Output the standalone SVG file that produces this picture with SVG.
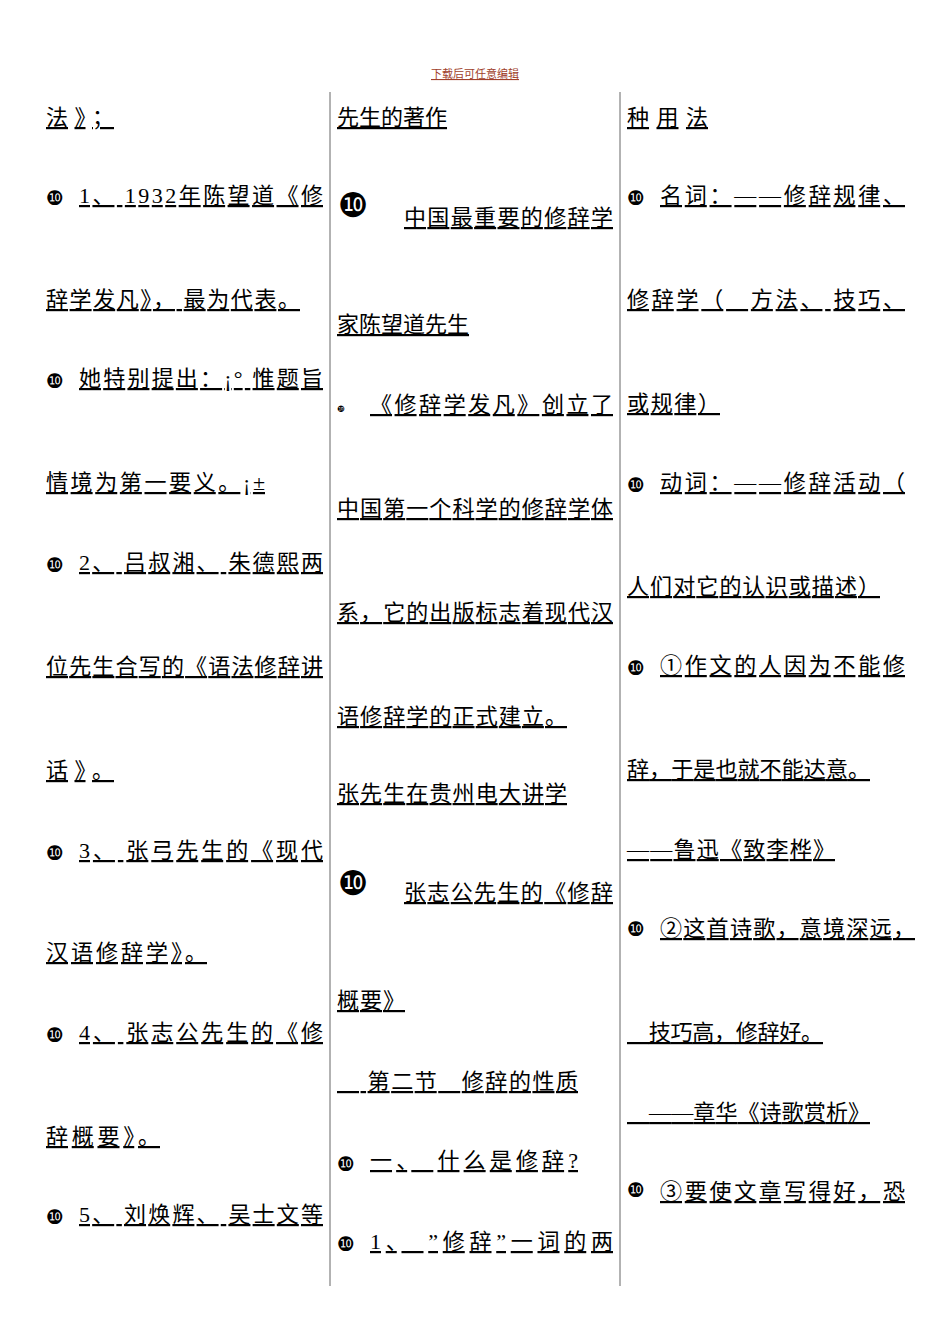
<svg xmlns="http://www.w3.org/2000/svg" width="950" height="1344" viewBox="0 0 950 1344">
<style>
text{font-family:"Liberation Serif","Noto Sans CJK SC",serif;font-size:22px;fill:#000;text-decoration:underline}
.b{text-decoration:none;font-size:20px;font-family:"DejaVu Sans","Noto Sans CJK SC",sans-serif}
.B{text-decoration:none;font-size:34px;font-family:"DejaVu Sans","Noto Sans CJK SC",sans-serif}
.h{font-size:11px;fill:#a0402a}
line{stroke:#666;stroke-width:1}
</style>
<rect width="950" height="1344" fill="#fff"/>
<text class="h" x="475" y="78" text-anchor="middle">下载后可任意编辑</text>
<line x1="330" y1="92" x2="330" y2="1286"/>
<line x1="620" y1="92" x2="620" y2="1286"/>
<g id="col1">
<text x="46" y="125" textLength="68" lengthAdjust="spacing">法》；</text>
<text class="b" x="46" y="205">❿</text><text x="79" y="203" textLength="244" lengthAdjust="spacing">1、 1932年陈望道《修</text>
<text x="46" y="307" textLength="254" lengthAdjust="spacing">辞学发凡》， 最为代表。</text>
<text class="b" x="46" y="388">❿</text><text x="79" y="386" textLength="244" lengthAdjust="spacing">她特别提出：¡° 惟题旨</text>
<text x="46" y="490" textLength="219" lengthAdjust="spacing">情境为第一要义。¡±</text>
<text class="b" x="46" y="572">❿</text><text x="79" y="570" textLength="244" lengthAdjust="spacing">2、 吕叔湘、 朱德熙两</text>
<text x="46" y="674" textLength="277" lengthAdjust="spacing">位先生合写的《语法修辞讲</text>
<text x="46" y="778" textLength="68" lengthAdjust="spacing">话》。</text>
<text class="b" x="46" y="860">❿</text><text x="79" y="858" textLength="244" lengthAdjust="spacing">3、 张弓先生的《现代</text>
<text x="46" y="960" textLength="161" lengthAdjust="spacing">汉语修辞学》。</text>
<text class="b" x="46" y="1042">❿</text><text x="79" y="1040" textLength="244" lengthAdjust="spacing">4、 张志公先生的《修</text>
<text x="46" y="1144" textLength="114" lengthAdjust="spacing">辞概要》。</text>
<text class="b" x="46" y="1224">❿</text><text x="79" y="1222" textLength="244" lengthAdjust="spacing">5、 刘焕辉、 吴士文等</text>
</g>
<g id="col2">
<text x="337" y="125">先生的著作</text>
<text class="B" x="338" y="217">❿</text><text x="404" y="225" textLength="209" lengthAdjust="spacing">中国最重要的修辞学</text>
<text x="337" y="332">家陈望道先生</text>
<text class="b" x="337" y="412" style="font-size:9px">❿</text><text x="370" y="412" textLength="243" lengthAdjust="spacing">《修辞学发凡》创立了</text>
<text x="337" y="516" textLength="276" lengthAdjust="spacing">中国第一个科学的修辞学体</text>
<text x="337" y="620" textLength="276" lengthAdjust="spacing">系，它的出版标志着现代汉</text>
<text x="337" y="724" textLength="230" lengthAdjust="spacing">语修辞学的正式建立。</text>
<text x="337" y="801" textLength="230" lengthAdjust="spacing">张先生在贵州电大讲学</text>
<text class="B" x="338" y="895">❿</text><text x="404" y="900" textLength="209" lengthAdjust="spacing">张志公先生的《修辞</text>
<text x="337" y="1008" textLength="68" lengthAdjust="spacing">概要》</text>
<text x="337" y="1089" textLength="241" lengthAdjust="spacing">　 第二节　修辞的性质</text>
<text class="b" x="337" y="1171">❿</text><text x="370" y="1168" textLength="208" lengthAdjust="spacing">一、　什么是修辞?</text>
<text class="b" x="337" y="1251">❿</text><text x="370" y="1249" textLength="243" lengthAdjust="spacing">1、　”修辞”一词的两</text>
</g>
<g id="col3">
<text x="627" y="125" textLength="81" lengthAdjust="spacing">种用法 </text>
<text class="b" x="627" y="205">❿</text><text x="660" y="203" textLength="245" lengthAdjust="spacing">名词：——修辞规律、</text>
<text x="627" y="307" textLength="278" lengthAdjust="spacing">修辞学（　方法、 技巧、</text>
<text x="627" y="411" textLength="93" lengthAdjust="spacing">或规律）</text>
<text class="b" x="627" y="492">❿</text><text x="660" y="490" textLength="245" lengthAdjust="spacing">动词：——修辞活动（</text>
<text x="627" y="594" textLength="253" lengthAdjust="spacing">人们对它的认识或描述）</text>
<text class="b" x="627" y="675">❿</text><text x="660" y="673" textLength="245" lengthAdjust="spacing">①作文的人因为不能修</text>
<text x="627" y="777" textLength="243" lengthAdjust="spacing">辞，于是也就不能达意。</text>
<text x="627" y="857" textLength="208" lengthAdjust="spacing">——鲁迅《致李桦》</text>
<text class="b" x="627" y="936">❿</text><text x="660" y="936" textLength="255" lengthAdjust="spacing">②这首诗歌，意境深远，</text>
<text x="627" y="1040" textLength="196" lengthAdjust="spacing">　技巧高，修辞好。</text>
<text x="627" y="1120" textLength="243" lengthAdjust="spacing">　——章华《诗歌赏析》</text>
<text class="b" x="627" y="1197">❿</text><text x="660" y="1199" textLength="245" lengthAdjust="spacing">③要使文章写得好，恐</text>
</g>
</svg>
